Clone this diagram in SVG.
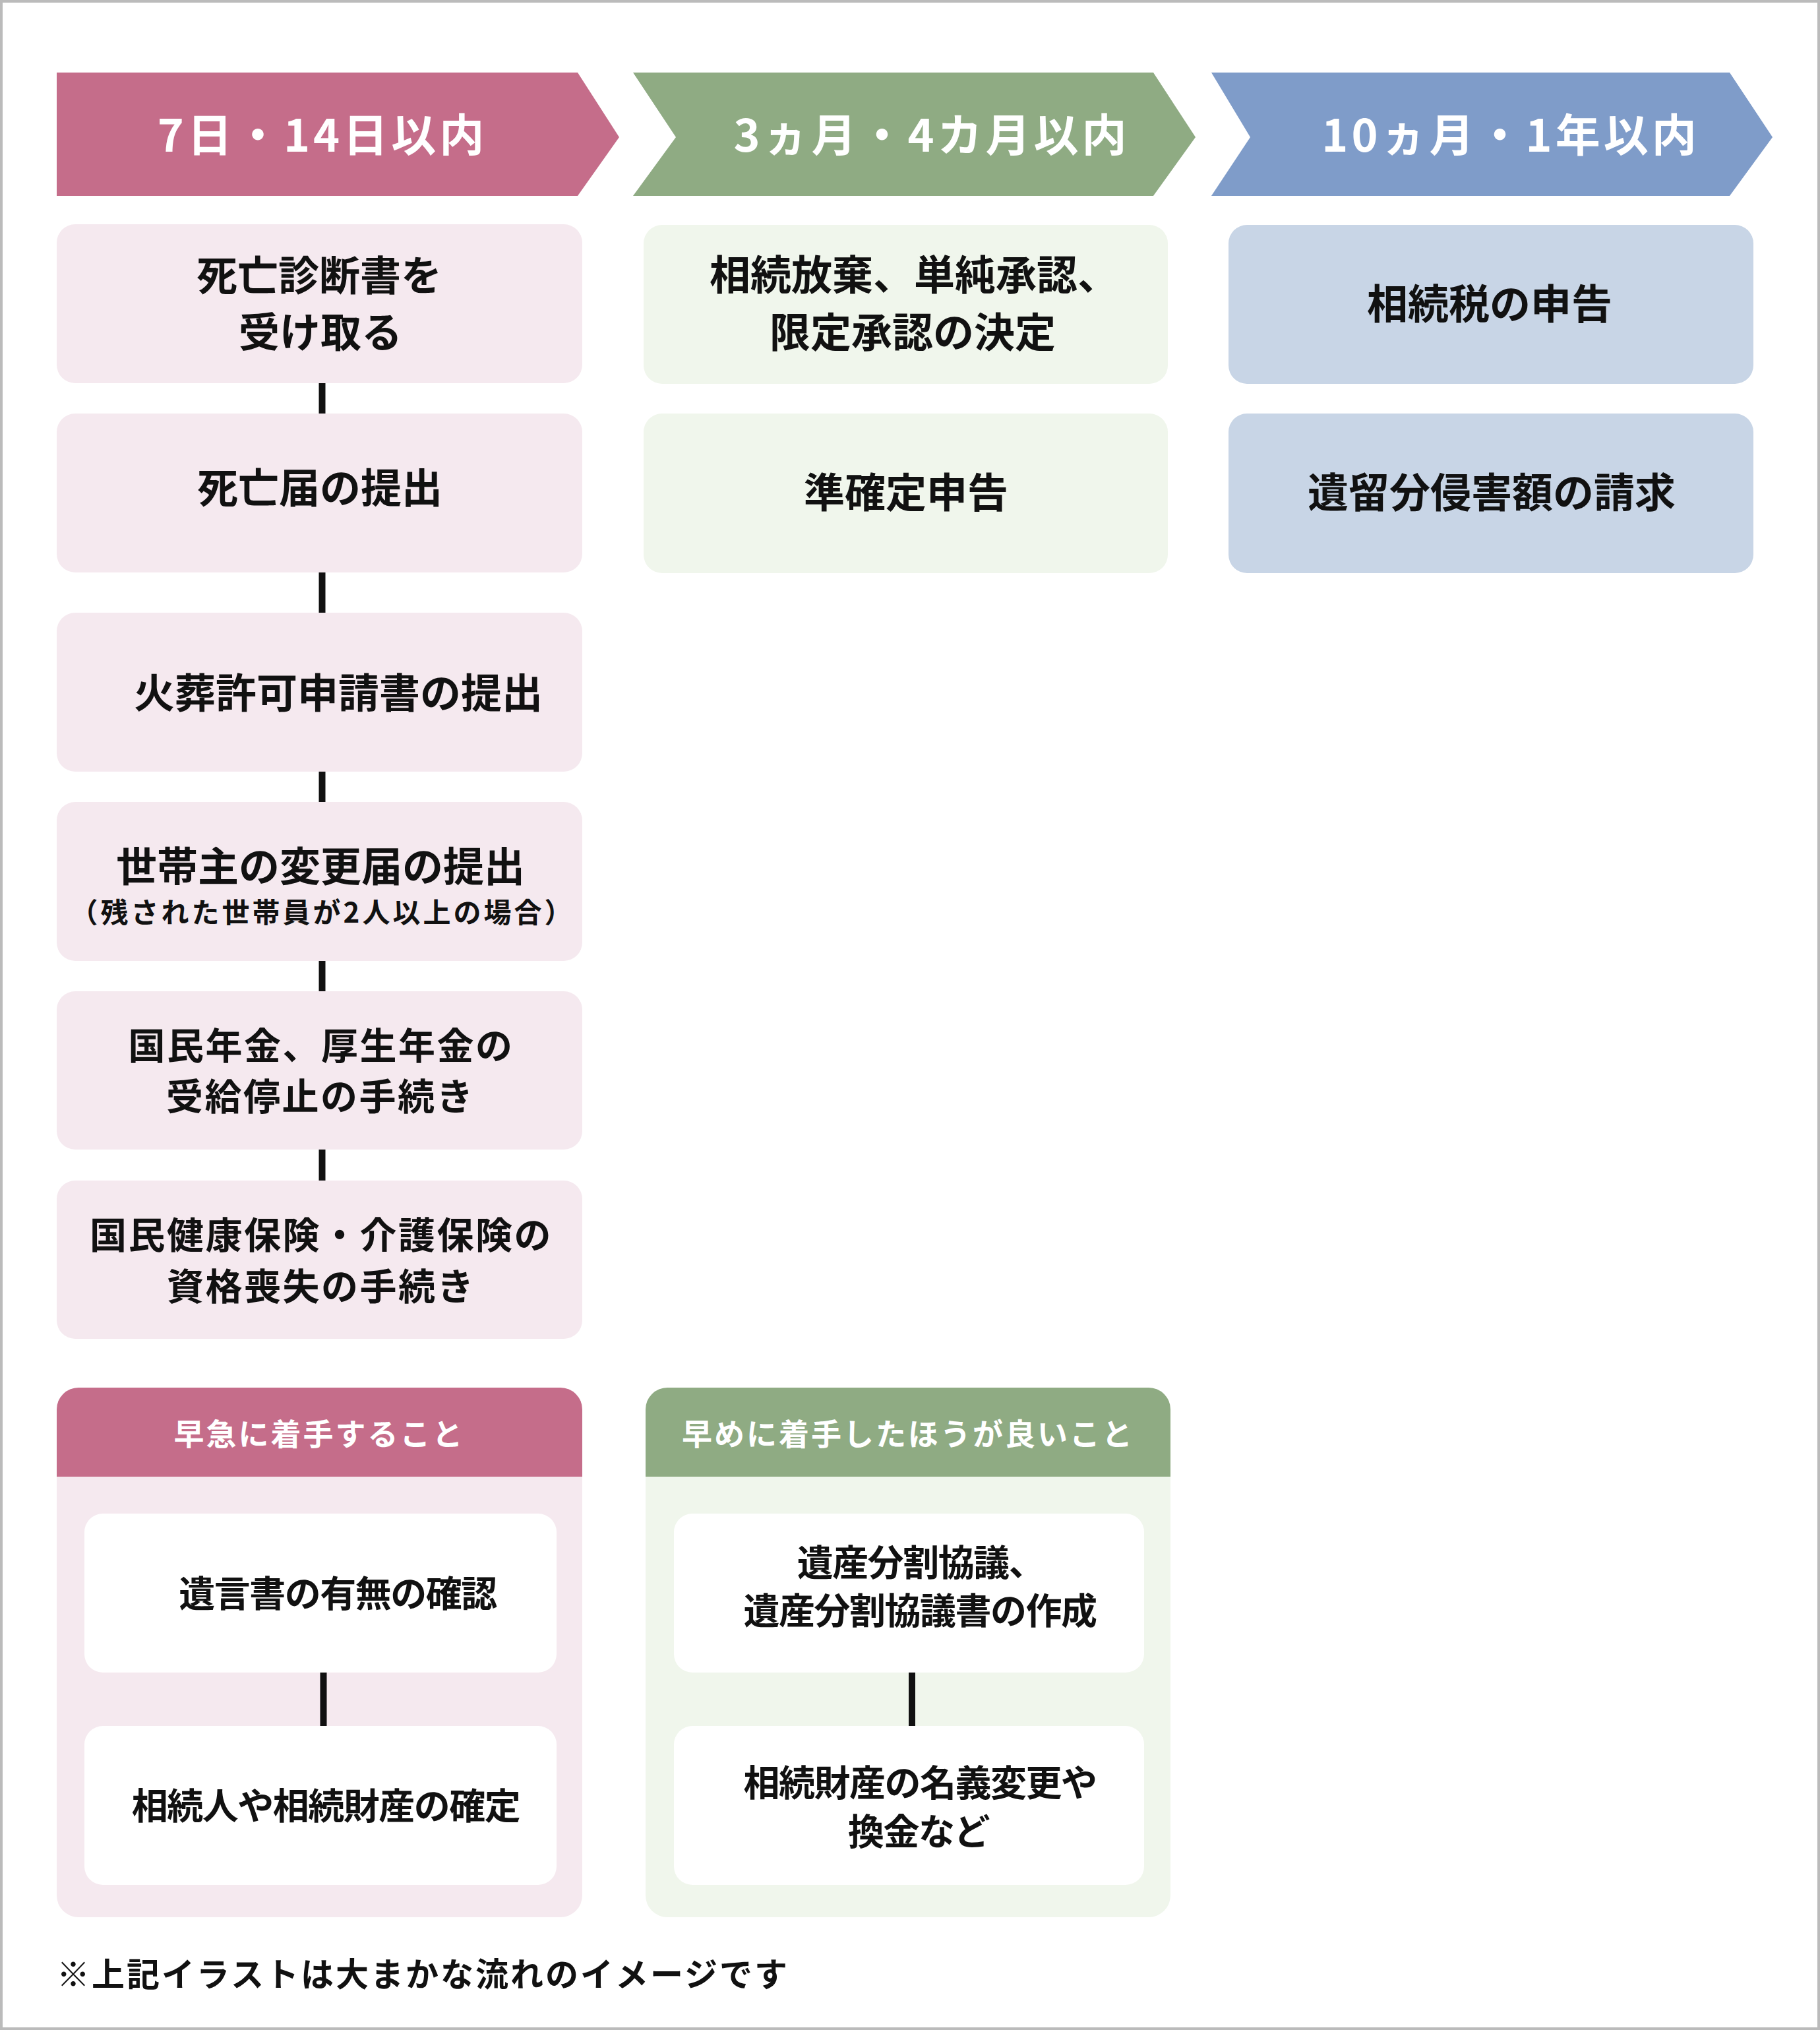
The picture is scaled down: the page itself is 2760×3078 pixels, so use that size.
<svg xmlns="http://www.w3.org/2000/svg" width="2760" height="3078" viewBox="0 0 2760 3078">
<style>
text{font-family:"Noto Sans CJK JP","Noto Sans",sans-serif;text-anchor:middle;fill:#111;}
.hd{font-size:68px;font-weight:700;fill:#fff;letter-spacing:5px;}
.t1{font-size:62px;font-weight:700;letter-spacing:0px;}
.t2{font-size:56px;font-weight:700;letter-spacing:2.5px;}
.sub{font-size:42px;font-weight:700;letter-spacing:4px;}
.ph{font-size:46px;font-weight:700;fill:#fff;letter-spacing:3px;}
.t3{font-size:55px;font-weight:700;letter-spacing:-1.5px;}
.ft{font-size:50px;font-weight:700;letter-spacing:3px;text-anchor:start;}
.pk{fill:#f5e9ef;}
.gn{fill:#f0f6ec;}
.bl{fill:#c8d5e6;}
.wh{fill:#ffffff;}
.conn{stroke:#111;stroke-width:10;}
</style>
<rect x="2" y="2" width="2756" height="3074" fill="#ffffff" stroke="#bbbbbb" stroke-width="4"/>

<g id="header-1">
<polygon points="86,110 876,110 939,208 876,297 86,297" fill="#c56d8a"/>
<text class="hd" x="489" y="230">7日・14日以内</text>
</g>
<g id="header-2">
<polygon points="960,110 1749,110 1813,208 1749,297 960,297 1025,208" fill="#8fab83"/>
<text class="hd" x="1413" y="230">3ヵ月・4カ月以内</text>
</g>
<g id="header-3">
<polygon points="1837,110 2623,110 2688,208 2623,297 1837,297 1896,208" fill="#7f9cc9"/>
<text class="hd" x="2291" y="230">10ヵ月・1年以内</text>
</g>

<g id="connectors">
<line class="conn" x1="488.5" y1="581" x2="488.5" y2="628"/>
<line class="conn" x1="488.5" y1="868" x2="488.5" y2="929"/>
<line class="conn" x1="488.5" y1="1170" x2="488.5" y2="1216"/>
<line class="conn" x1="488.5" y1="1457" x2="488.5" y2="1503"/>
<line class="conn" x1="488.5" y1="1743" x2="488.5" y2="1790"/>
</g>

<g id="box-c1-1">
<rect class="pk" x="86" y="340" width="797" height="241" rx="28"/>
<text class="t1" x="484" y="441">死亡診断書を</text>
<text class="t1" x="486" y="527">受け取る</text>
</g>
<g id="box-c1-2">
<rect class="pk" x="86" y="627" width="797" height="241" rx="28"/>
<text class="t1" x="485" y="763">死亡届の提出</text>
</g>
<g id="box-c1-3">
<rect class="pk" x="86" y="929" width="797" height="241" rx="28"/>
<text class="t1" x="513" y="1074">火葬許可申請書の提出</text>
</g>
<g id="box-c1-4">
<rect class="pk" x="86" y="1216" width="797" height="241" rx="28"/>
<text class="t1" x="486" y="1337">世帯主の変更届の提出</text>
<text class="sub" x="489" y="1399">（残された世帯員が2人以上の場合）</text>
</g>
<g id="box-c1-5">
<rect class="pk" x="86" y="1503" width="797" height="240" rx="28"/>
<text class="t2" x="487" y="1606">国民年金、厚生年金の</text>
<text class="t2" x="486" y="1683">受給停止の手続き</text>
</g>
<g id="box-c1-6">
<rect class="pk" x="86" y="1790" width="797" height="240" rx="28"/>
<text class="t2" x="487" y="1893">国民健康保険・介護保険の</text>
<text class="t2" x="487" y="1971">資格喪失の手続き</text>
</g>

<g id="box-c2-1">
<rect class="gn" x="976" y="341" width="795" height="241" rx="28"/>
<text class="t1" x="1386" y="440">相続放棄、単純承認、</text>
<text class="t1" x="1384" y="527">限定承認の決定</text>
</g>
<g id="box-c2-2">
<rect class="gn" x="976" y="627" width="795" height="242" rx="28"/>
<text class="t1" x="1374" y="770">準確定申告</text>
</g>

<g id="box-c3-1">
<rect class="bl" x="1863" y="341" width="796" height="241" rx="28"/>
<text class="t1" x="2259" y="484">相続税の申告</text>
</g>
<g id="box-c3-2">
<rect class="bl" x="1863" y="627" width="796" height="242" rx="28"/>
<text class="t1" x="2262" y="770">遺留分侵害額の請求</text>
</g>

<g id="panel-urgent">
<rect class="pk" x="86" y="2104" width="797" height="803" rx="33"/>
<path d="M86,2239 L86,2137 A33,33 0 0 1 119,2104 L850,2104 A33,33 0 0 1 883,2137 L883,2239 Z" fill="#c56d8a"/>
<text class="ph" x="484" y="2191">早急に着手すること</text>
<line class="conn" x1="490.5" y1="2536" x2="490.5" y2="2617"/>
<g id="box-u-1">
<rect class="wh" x="128" y="2295" width="716" height="241" rx="28"/>
<text class="t3" x="512" y="2436">遺言書の有無の確認</text>
</g>
<g id="box-u-2">
<rect class="wh" x="128" y="2617" width="716" height="241" rx="28"/>
<text class="t3" x="494" y="2758">相続人や相続財産の確定</text>
</g>
</g>

<g id="panel-early">
<rect class="gn" x="979" y="2104" width="796" height="803" rx="33"/>
<path d="M979,2239 L979,2137 A33,33 0 0 1 1012,2104 L1742,2104 A33,33 0 0 1 1775,2137 L1775,2239 Z" fill="#8fab83"/>
<text class="ph" x="1377" y="2191">早めに着手したほうが良いこと</text>
<line class="conn" x1="1383" y1="2536" x2="1383" y2="2617"/>
<g id="box-e-1">
<rect class="wh" x="1022" y="2295" width="713" height="241" rx="28"/>
<text class="t3" x="1396" y="2389">遺産分割協議、</text>
<text class="t3" x="1395" y="2462">遺産分割協議書の作成</text>
</g>
<g id="box-e-2">
<rect class="wh" x="1022" y="2617" width="713" height="241" rx="28"/>
<text class="t3" x="1395" y="2723">相続財産の名義変更や</text>
<text class="t3" x="1393" y="2797">換金など</text>
</g>
</g>

<text class="ft" x="86" y="3012">※上記イラストは大まかな流れのイメージです</text>
</svg>
